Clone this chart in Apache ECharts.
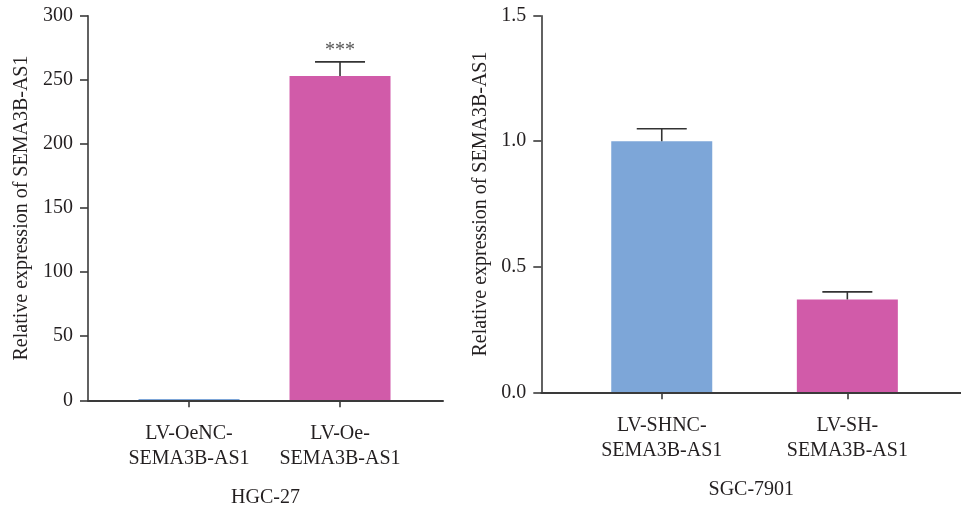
<!DOCTYPE html>
<html>
<head>
<meta charset="utf-8">
<script src="https://cdn.jsdelivr.net/npm/echarts@6/dist/echarts.min.js"></script>
<style>
  html, body { margin: 0; padding: 0; background: #fff; }
  #chart { width: 961px; height: 509px; }
</style>
</head>
<body>
<div id="chart"></div>
<script>
// HGC-27 (overexpression)
const leftCategories = ['LV-OeNC-\nSEMA3B-AS1', 'LV-Oe-\nSEMA3B-AS1'];
const leftValues = [1, 253];
const leftErrors = [null, 264];
const leftSignificance = ['', '***'];
const leftColors = ['#7DA6D8', '#D15BA9'];
const leftTicks = [0, 50, 100, 150, 200, 250, 300];

// SGC-7901 (knockdown)
const rightCategories = ['LV-SHNC-\nSEMA3B-AS1', 'LV-SH-\nSEMA3B-AS1'];
const rightValues = [1.0, 0.37];
const rightErrors = [1.05, 0.40];
const rightColors = ['#7DA6D8', '#D15BA9'];
const rightTicks = [0.0, 0.5, 1.0, 1.5];

const FONT = 'Liberation Serif';
const TEXT = '#231f20';
const AXIS = '#3a3a3a';

function barData(values, colors) {
  return values.map((v, i) => ({ value: [i + 1, v], itemStyle: { color: colors[i] } }));
}
function errData(values, errors, marks) {
  return values.map((v, i) => errors[i] == null ? null : [i + 1, v, errors[i], marks ? marks[i] : ''])
    .filter(d => d);
}
function errorRender(params, api) {
  const x = api.value(0);
  const base = api.coord([x, api.value(1)]);
  const top = api.coord([x, api.value(2)]);
  const half = 25;
  const style = { stroke: '#333', lineWidth: 1.6 };
  const children = [
    { type: 'line', shape: { x1: top[0], y1: base[1], x2: top[0], y2: top[1] }, style },
    { type: 'line', shape: { x1: top[0] - half, y1: top[1], x2: top[0] + half, y2: top[1] }, style }
  ];
  const mark = api.value(3);
  if (mark) {
    children.push({
      type: 'text',
      style: { text: mark, x: top[0], y: top[1] - 1, align: 'center', verticalAlign: 'bottom',
               font: '20px "' + FONT + '"', fill: '#555' }
    });
  }
  return { type: 'group', children };
}

function xAxisFor(gridIndex, cats, min, max, name, nameGap) {
  return {
    type: 'value', gridIndex, min, max, z: 10,
    name, nameLocation: 'middle', nameGap,
    nameTextStyle: { fontFamily: FONT, fontSize: 20, color: TEXT },
    splitLine: { show: false },
    axisLine: { show: true, lineStyle: { color: AXIS, width: 2 } },
    axisTick: { show: true, length: 7, lineStyle: { color: AXIS, width: 1.6 }, customValues: [1, 2] },
    axisLabel: {
      customValues: [1, 2], margin: 21,
      fontFamily: FONT, fontSize: 20, color: TEXT, lineHeight: 25,
      formatter: v => cats[Math.round(v) - 1]
    }
  };
}
function yAxisFor(gridIndex, ticks, decimals, nameGap) {
  return {
    type: 'value', gridIndex,
    min: ticks[0], max: ticks[ticks.length - 1], interval: ticks[1] - ticks[0],
    name: 'Relative expression of SEMA3B-AS1', nameLocation: 'middle', nameGap,
    nameTextStyle: { fontFamily: FONT, fontSize: 20, color: TEXT },
    splitLine: { show: false },
    axisLine: { show: true, lineStyle: { color: AXIS, width: 1.6 } },
    axisTick: { show: true, length: 8, lineStyle: { color: AXIS, width: 1.6 } },
    axisLabel: { margin: 15, fontFamily: FONT, fontSize: 20, color: TEXT,
                 formatter: v => v.toFixed(decimals) }
  };
}

const chart = echarts.init(document.getElementById('chart'), null, { renderer: 'canvas' });
chart.setOption({
  animation: false,
  backgroundColor: '#fff',
  grid: [
    { left: 88, top: 15.7, width: 355, height: 384.6, outerBoundsMode: 'none' },
    { left: 541.3, top: 15.7, width: 420, height: 376.6, outerBoundsMode: 'none' }
  ],
  xAxis: [
    xAxisFor(0, leftCategories, 0.331, 2.682, 'HGC-27', 87),
    xAxisFor(1, rightCategories, 0.351, 2.614, 'SGC-7901', 87)
  ],
  yAxis: [
    yAxisFor(0, leftTicks, 0, 56),
    yAxisFor(1, rightTicks, 1, 51)
  ],
  series: [
    { type: 'bar', xAxisIndex: 0, yAxisIndex: 0, barWidth: 101, data: barData(leftValues, leftColors) },
    { type: 'custom', xAxisIndex: 0, yAxisIndex: 0, renderItem: errorRender, z: 5,
      data: errData(leftValues, leftErrors, leftSignificance) },
    { type: 'bar', xAxisIndex: 1, yAxisIndex: 1, barWidth: 101, data: barData(rightValues, rightColors) },
    { type: 'custom', xAxisIndex: 1, yAxisIndex: 1, renderItem: errorRender, z: 5,
      data: errData(rightValues, rightErrors) }
  ]
});
</script>
</body>
</html>
